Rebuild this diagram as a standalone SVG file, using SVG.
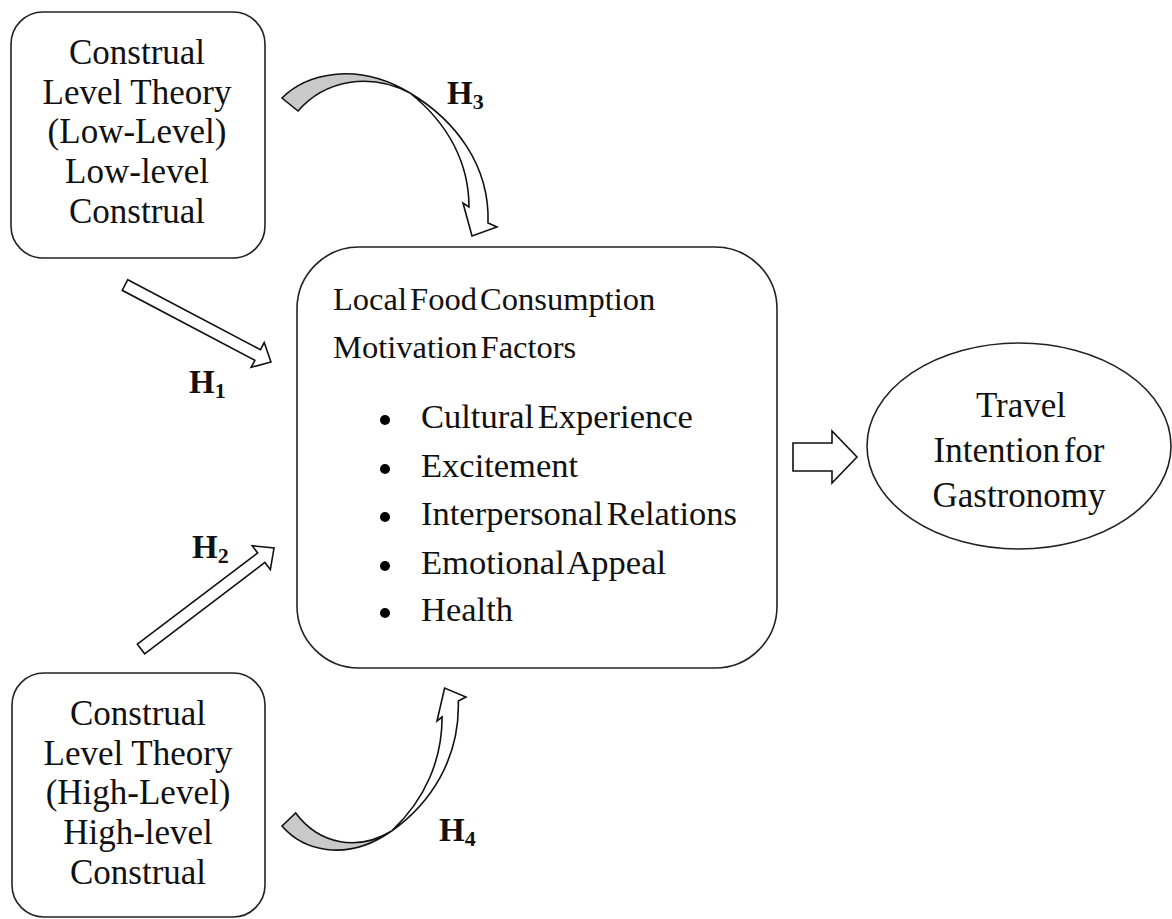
<svg xmlns="http://www.w3.org/2000/svg" width="1172" height="919" viewBox="0 0 1172 919">
<style>
.box{fill:#fff;stroke:#222;stroke-width:1.6}
.t{font-family:"Liberation Serif","Times New Roman",serif;font-size:35px;fill:#111}
.ti{font-size:32.5px}
.li{font-size:34.5px}
.c{text-anchor:middle}
.tight{word-spacing:-5px}
.arr{fill:#fff;stroke:#111;stroke-width:1.6;stroke-linejoin:miter}
.gray{fill:#c9c9c9;stroke:#111;stroke-width:1.6}
.h{font-family:"Liberation Serif","Times New Roman",serif;font-size:33px;font-weight:bold;fill:#111}
.sub{font-size:22px}
</style>
<rect width="1172" height="919" fill="#fff"/>
<g id="node-low">
<rect class="box" x="11" y="12" width="254" height="246" rx="32"/>
<text class="t c" x="137"><tspan x="137" y="64">Construal</tspan><tspan x="137" y="104">Level Theory</tspan><tspan x="137" y="143">(Low-Level)</tspan><tspan x="137" y="183">Low-level</tspan><tspan x="137" y="223">Construal</tspan></text>
</g>
<g id="node-high">
<rect class="box" x="12" y="673" width="253" height="244" rx="32"/>
<text class="t c" x="138"><tspan x="138" y="725">Construal</tspan><tspan x="138" y="765">Level Theory</tspan><tspan x="138" y="804">(High-Level)</tspan><tspan x="138" y="844">High-level</tspan><tspan x="138" y="884">Construal</tspan></text>
</g>
<g id="node-factors">
<rect class="box" x="297" y="247" width="480" height="421" rx="62"/>
<text class="t ti tight" x="333" y="310">Local Food Consumption</text>
<text class="t ti tight" x="333" y="358">Motivation Factors</text>
<circle cx="385" cy="420" r="5"/>
<circle cx="385" cy="469" r="5"/>
<circle cx="385" cy="517" r="5"/>
<circle cx="385" cy="566" r="5"/>
<circle cx="385" cy="613" r="5"/>
<text class="t li tight" x="421" y="428">Cultural Experience</text>
<text class="t li tight" x="421" y="477">Excitement</text>
<text class="t li tight" x="421" y="525">Interpersonal Relations</text>
<text class="t li tight" x="421" y="574">Emotional Appeal</text>
<text class="t li tight" x="421" y="621">Health</text>
</g>
<g id="node-intention">
<ellipse class="box" cx="1019" cy="446" rx="152" ry="103"/>
<text class="t c tight"><tspan x="1021" y="417">Travel</tspan><tspan x="1019" y="462">Intention for</tspan><tspan x="1019" y="507">Gastronomy</tspan></text>
</g>
<g id="connectors">
<polygon class="arr" transform="translate(125,285) rotate(27.8)" points="0,-6 150,-6 150,-14 165,0 150,14 150,6 0,6"/>
<polygon class="arr" transform="translate(141,649) rotate(-37.2)" points="0,-6 151,-6 151,-15 167,0 151,15 151,6 0,6"/>
<polygon class="arr" points="793,443 832,443 832,431 857,457 832,483 832,471 793,471"/>
<path class="gray" d="M282,98 C305,75 355,60 410,93 C370,72 325,80 298,111 Z"/>
<path class="arr" d="M410,93 C455,120 490,165 488,223 L497,227 L472,236 L463,203 L469,207 C469,165 450,125 410,93 Z"/>
<path class="gray" d="M282,826 C301.7,849 344.5,864 391.6,831 C357.3,852 318.8,844 295.7,813 Z"/>
<path class="arr" d="M391.6,831 C430.1,804 460,759 458.3,701 L466,697 L444.6,688 L437,721 L442.1,717 C442.1,759 425.8,799 391.6,831 Z"/>
<text class="h" x="189" y="393">H<tspan class="sub" dy="5">1</tspan></text>
<text class="h" x="192" y="558">H<tspan class="sub" dy="5">2</tspan></text>
<text class="h" x="447" y="104">H<tspan class="sub" dy="5">3</tspan></text>
<text class="h" x="439" y="841">H<tspan class="sub" dy="5">4</tspan></text>
</g>
</svg>
